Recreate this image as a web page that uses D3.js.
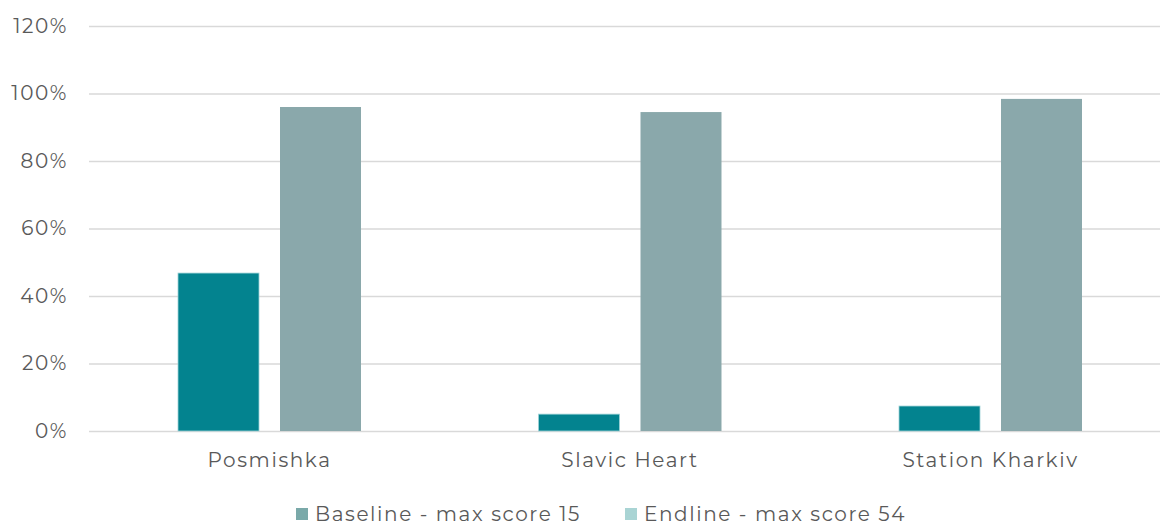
<!DOCTYPE html>
<html><head><meta charset="utf-8">
<script src="https://cdn.jsdelivr.net/npm/d3@7"></script>
<style>body{margin:0;background:#fff;} svg{display:block;}</style>
</head><body>
<svg id="c" width="1160" height="525"></svg>
<script>
const categories = ["Posmishka", "Slavic Heart", "Station Kharkiv"];
const seriesNames = ["Baseline - max score 15", "Endline - max score 54"];
const baseline = [0.468, 0.050, 0.074];
const endline = [0.960, 0.945, 0.984];
const yTicks = [0, 0.2, 0.4, 0.6, 0.8, 1.0, 1.2];

const barColors = ["#03838f", "#8aa8ab"];
const legendColors = ["#7aa9a9", "#a9d4d4"];
const font = "Montserrat, 'Open Sans', sans-serif";
const textColor = "#595959";
const fs = "20px";
const ls = "1.6px";

const svg = d3.select("#c");
const x0 = d3.scaleBand().domain(categories).range([89.25, 1170.75]).paddingInner(0.4924).paddingOuter(0.2462);
const x1 = d3.scaleBand().domain([0, 1]).range([0, x0.bandwidth()]).paddingInner(21/102).paddingOuter(0);
const y = d3.scaleLinear().domain([0, 1.2]).range([431, 26]);

// gridlines
const yAxis = d3.axisLeft(y).tickValues(yTicks).tickFormat(d3.format(".0%")).tickSize(-(1170 - 89)).tickPadding(21);
const gy = svg.append("g").attr("transform", "translate(89,0)").call(yAxis);
gy.select(".domain").remove();
gy.selectAll(".tick line").attr("stroke", "#d9d9d9").attr("stroke-width", 1.5);
gy.selectAll(".tick text").attr("fill", textColor).style("font-family", font).style("font-size", fs).style("letter-spacing", ls);

const data = categories.map((c, i) => ({c, v: [baseline[i], endline[i]]}));
const groups = svg.append("g").selectAll("g").data(data).join("g")
  .attr("transform", d => `translate(${x0(d.c)},0)`);
groups.selectAll("rect").data(d => d.v.map((v, k) => ({v, k}))).join("rect")
  .attr("x", d => x1(d.k))
  .attr("width", x1.bandwidth())
  .attr("y", d => y(d.v))
  .attr("height", d => y(0) - y(d.v))
  .attr("fill", d => barColors[d.k])
  .attr("stroke", d => d.k === 0 ? "#9fd3d8" : "none")
  .attr("stroke-width", 0.8);

// x axis labels
const xAxis = d3.axisBottom(x0).tickSize(0).tickPadding(22);
const gx = svg.append("g").attr("transform", "translate(0,431)").call(xAxis);
gx.select(".domain").remove();
gx.selectAll(".tick text").attr("fill", textColor).style("font-family", font).style("font-size", fs).style("letter-spacing", ls);

// legend
const legendX = [296, 625];
const lg = svg.append("g").selectAll("g").data(seriesNames).join("g")
  .attr("transform", (d, i) => `translate(${legendX[i]},0)`);
lg.append("rect").attr("x", 0).attr("y", 508).attr("width", 12).attr("height", 12).attr("fill", (d, i) => legendColors[i]);
lg.append("text").attr("x", 19).attr("y", 521).text(d => d)
  .attr("fill", textColor).style("font-family", font).style("font-size", fs).style("letter-spacing", ls);
</script>
</body></html>
